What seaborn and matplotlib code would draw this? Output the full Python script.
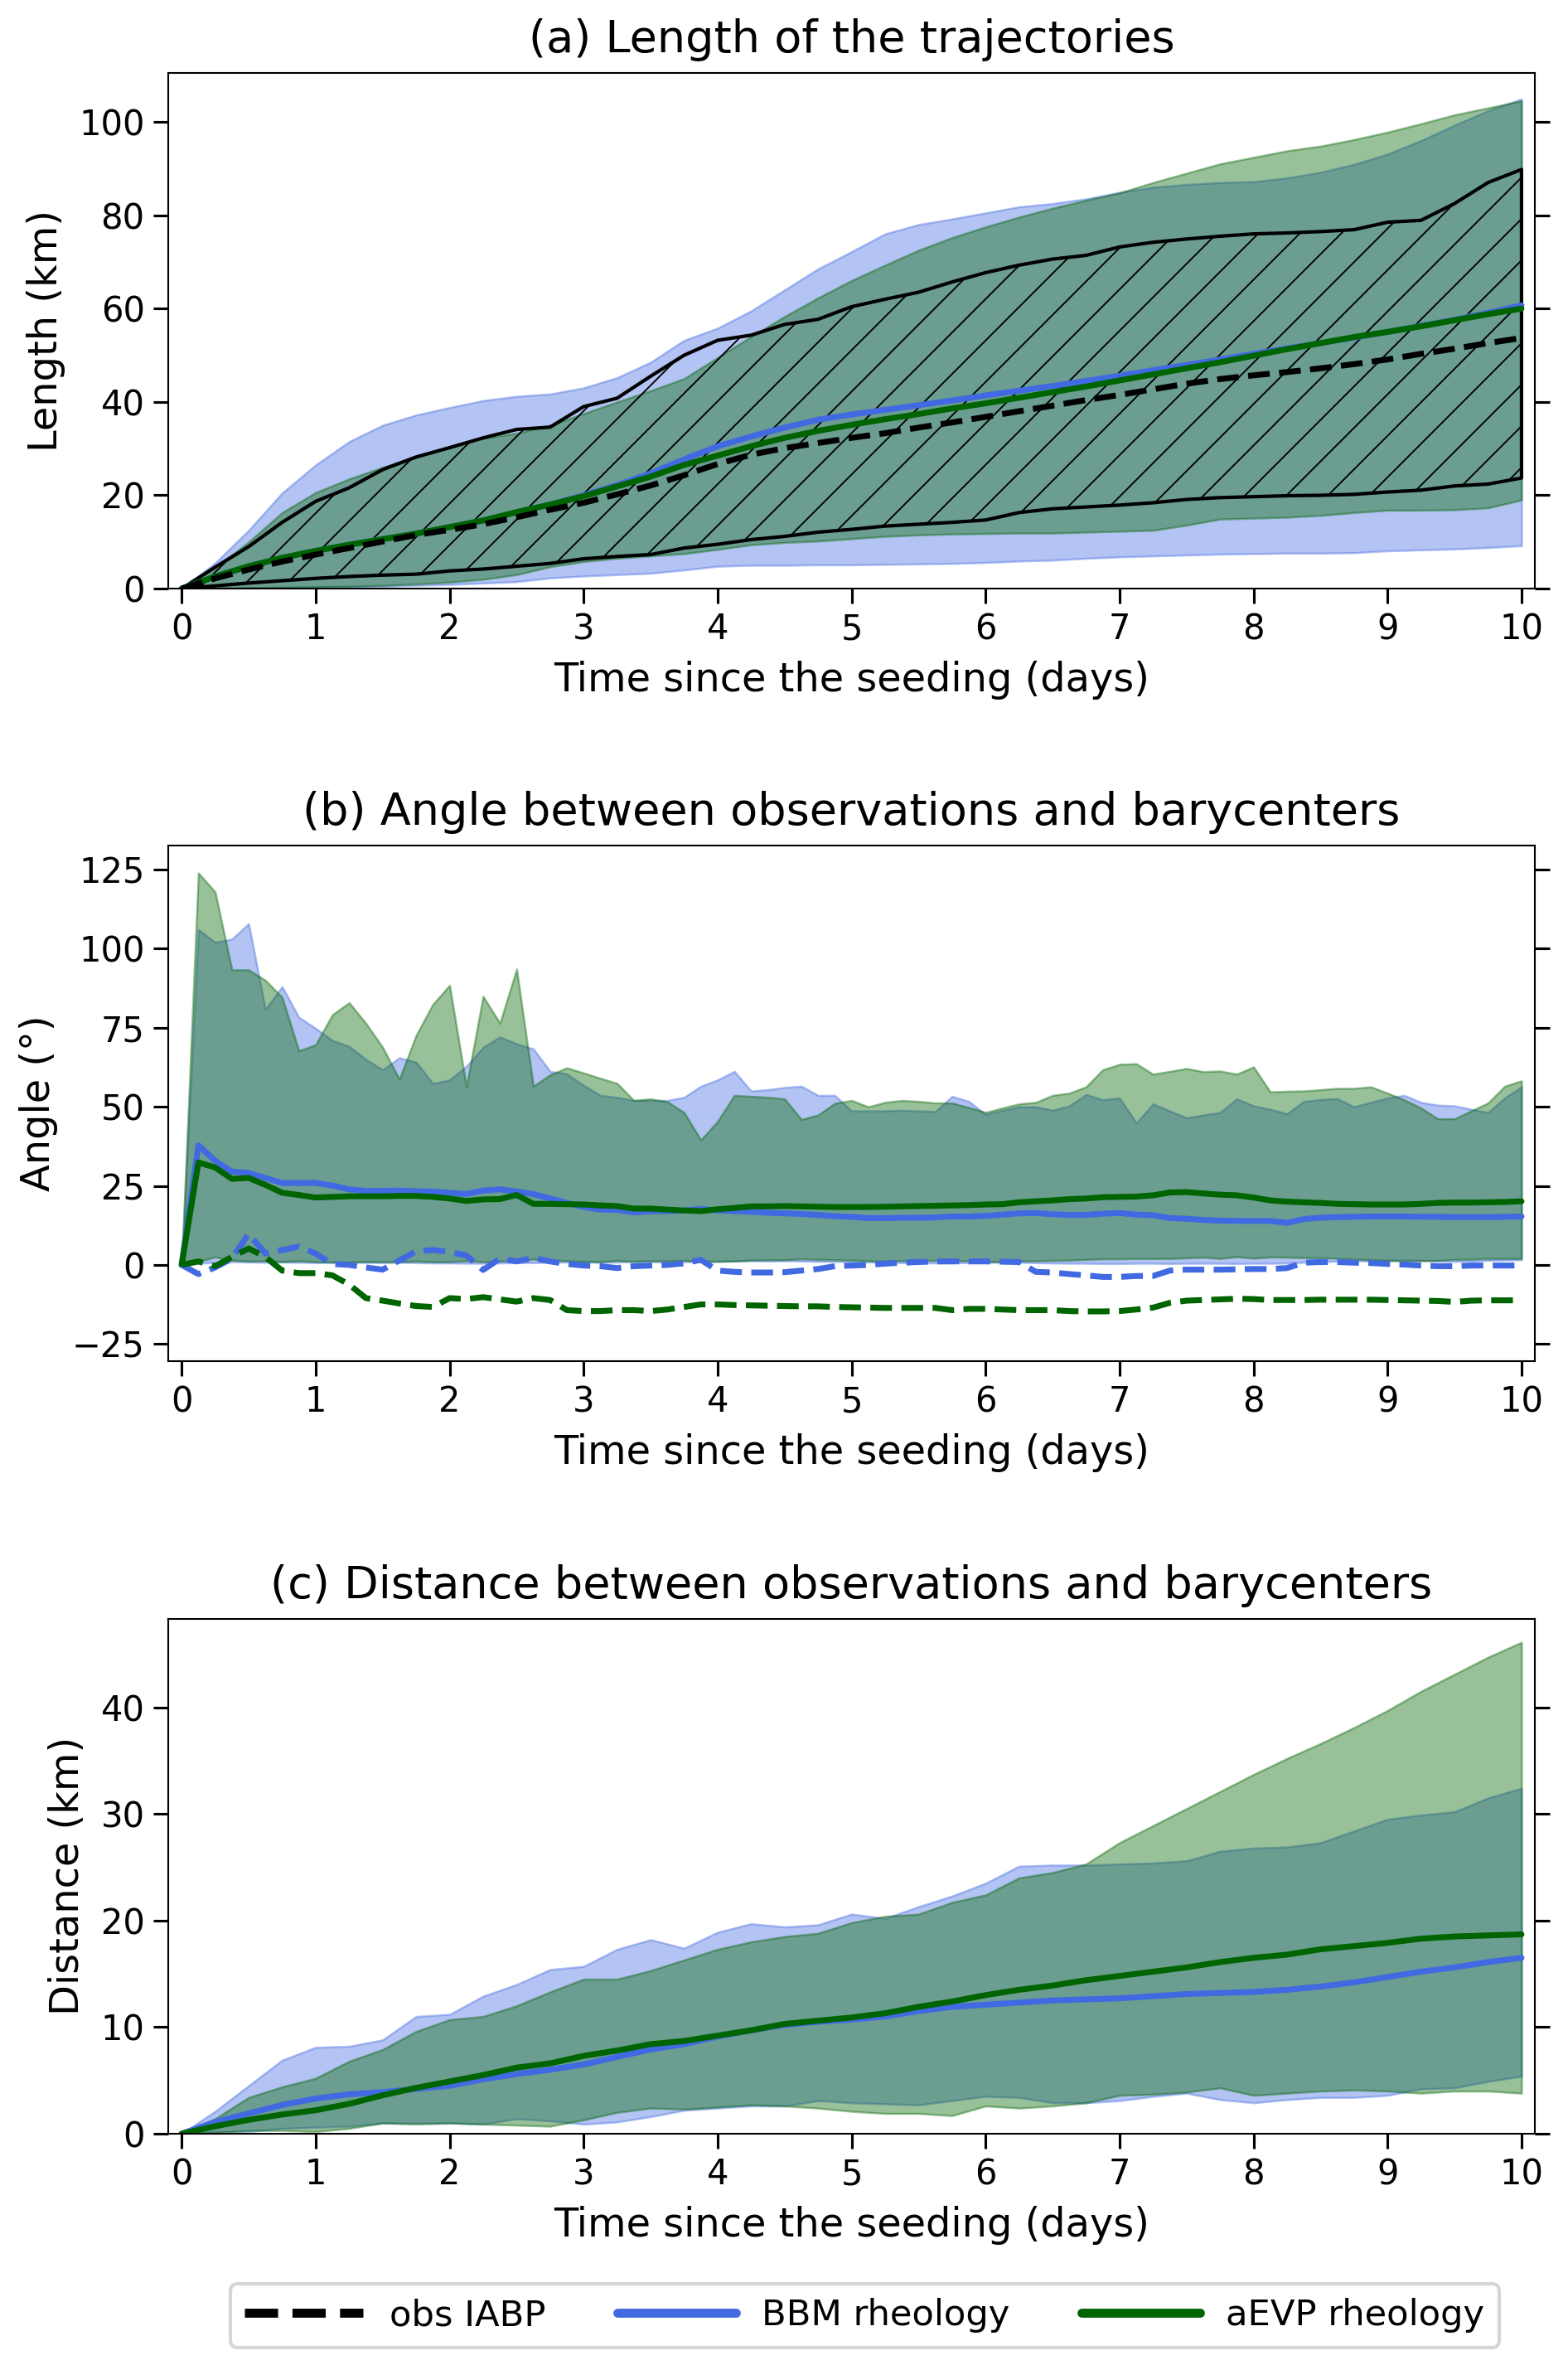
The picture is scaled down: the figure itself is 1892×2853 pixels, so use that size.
import numpy as np
import matplotlib
matplotlib.use("Agg")
import matplotlib.pyplot as plt
from matplotlib.lines import Line2D
import seaborn as sns

# ---------------- data ----------------
# panel (a): 0.25-day grid
t_a = np.linspace(0, 10, 41)
len_bbm_hi = [0, 5.5, 12.5, 20.5, 26.5, 31.5, 35.0, 37.2, 38.8, 40.3, 41.2, 41.7, 43.0, 45.2, 48.5, 53.2, 55.8,
              59.5, 64.0, 68.5, 72.2, 76.0, 78.0, 79.2, 80.5, 81.8, 82.5, 83.5, 84.9, 86.0, 86.6, 87.0, 87.2,
              88.0, 89.2, 90.9, 93.1, 96.0, 99.3, 102.4, 104.9]
len_bbm_lo = [0, 0.05, 0.1, 0.2, 0.3, 0.4, 0.5, 0.7, 0.9, 1.2, 1.5, 2.3, 2.7, 3.0, 3.3, 4.0, 4.8, 5.0, 5.0, 5.1,
              5.1, 5.2, 5.3, 5.4, 5.6, 5.9, 6.1, 6.5, 6.8, 7.0, 7.2, 7.4, 7.5, 7.6, 7.6, 7.7, 8.1, 8.3, 8.5, 8.8, 9.2]
len_evp_hi = [0, 4.5, 10.0, 16.3, 20.6, 23.5, 26.0, 28.3, 30.5, 32.2, 33.3, 35.0, 37.5, 40.0, 42.4, 45.0, 49.5,
              54.0, 58.3, 62.3, 66.0, 69.3, 72.5, 75.2, 77.5, 79.6, 81.5, 83.2, 84.8, 87.0, 89.0, 91.0, 92.4,
              93.8, 94.8, 96.2, 97.8, 99.6, 101.5, 103.0, 104.5]
len_evp_lo = [0, 0.1, 0.2, 0.3, 0.4, 0.5, 0.7, 1.0, 1.4, 2.0, 3.0, 4.7, 5.8, 6.5, 7.0, 7.5, 8.4, 9.4, 9.9, 10.2,
              10.7, 11.2, 11.5, 11.7, 11.8, 11.9, 11.9, 12.1, 12.3, 12.5, 13.6, 14.9, 15.1, 15.3, 15.7, 16.3,
              16.8, 16.8, 16.9, 17.3, 19.0]
len_obs_hi = [0, 4.6, 9.0, 14.2, 18.7, 21.6, 25.5, 28.2, 30.2, 32.3, 34.1, 34.6, 39.0, 40.8, 45.5, 50.0, 53.2,
              54.3, 56.6, 57.7, 60.4, 62.0, 63.5, 65.7, 67.7, 69.3, 70.6, 71.4, 73.2, 74.2, 74.9, 75.5, 76.0,
              76.2, 76.5, 76.9, 78.5, 78.9, 82.5, 87.0, 89.8]
len_obs_lo = [0, 0.6, 1.2, 1.7, 2.2, 2.6, 2.9, 3.1, 3.8, 4.2, 4.8, 5.4, 6.4, 6.9, 7.3, 8.7, 9.5, 10.5, 11.2, 12.1,
              12.7, 13.4, 13.8, 14.2, 14.7, 16.3, 17.1, 17.5, 17.9, 18.4, 19.1, 19.5, 19.7, 19.9, 20.0, 20.2,
              20.7, 21.1, 22.0, 22.4, 23.7]
len_bbm_med = [0, 2.6, 4.8, 6.6, 8.1, 9.4, 10.6, 11.8, 13.2, 14.6, 16.4, 18.0, 20.0, 22.2, 24.7, 27.7, 30.5, 32.6,
               34.5, 36.2, 37.3, 38.3, 39.3, 40.3, 41.4, 42.4, 43.4, 44.5, 45.6, 46.8, 47.9, 49.1, 50.3, 51.5,
               52.6, 53.8, 55.0, 56.3, 57.6, 59.1, 60.7]
len_evp_med = [0, 2.6, 4.8, 6.6, 8.1, 9.4, 10.6, 11.8, 13.2, 14.6, 16.4, 18.0, 19.8, 21.9, 24.0, 26.5, 28.5, 30.5,
               32.3, 33.8, 35.1, 36.3, 37.4, 38.6, 39.7, 40.9, 42.1, 43.3, 44.6, 45.9, 47.2, 48.5, 49.9, 51.3,
               52.6, 53.9, 55.0, 56.2, 57.5, 58.8, 60.0]
len_obs_med = [0, 2.2, 4.1, 5.8, 7.3, 8.7, 10.1, 11.5, 12.6, 13.8, 15.3, 16.9, 18.4, 20.2, 22.1, 24.3, 26.7, 28.7,
               30.1, 31.2, 32.3, 33.3, 34.5, 35.6, 36.8, 38.0, 39.2, 40.4, 41.5, 42.7, 43.9, 44.9, 45.7, 46.4,
               47.2, 48.1, 49.1, 50.3, 51.4, 52.6, 53.7]

# panel (b): 3-hourly grid
t_b = np.linspace(0, 10, 81)
ang_evp_hi = [0, 123.9, 117.9, 93.3, 93.3, 90.0, 84.6, 67.7, 69.6, 79.1, 82.9,
              76.4, 68.8, 58.7, 72.6, 82.4, 88.4, 56.3, 84.9, 76.4, 93.5,
              56.5, 60.1, 62.3, 60.7, 59.0, 57.4, 52.0, 52.5, 51.6, 48.2,
              39.5, 45.4, 53.6, 53.3, 53.0, 52.5, 46.0, 47.4, 51.1, 52.0,
              50.0, 51.4, 52.0, 51.7, 51.2, 51.2, 49.8, 48.2, 49.6, 50.9,
              51.4, 53.6, 54.3, 56.3, 61.7, 63.4, 63.6, 60.3, 61.2, 62.1,
              61.1, 61.3, 60.3, 62.6, 54.7, 54.9, 55.0, 55.4, 55.8, 55.8,
              56.3, 54.3, 52.2, 49.6, 46.2, 46.2, 48.7, 51.2, 56.5, 58.2]
ang_bbm_hi = [0, 106.0, 102.0, 103.0, 107.9, 80.8, 88.0, 78.3, 74.8, 71.0, 69.1,
              65.0, 61.7, 65.5, 64.1, 57.4, 58.5, 62.8, 68.8, 72.1, 69.9,
              68.3, 61.2, 60.4, 56.8, 53.6, 53.0, 52.0, 52.0, 52.0, 53.0,
              56.5, 58.5, 61.2, 55.0, 55.4, 56.1, 56.5, 53.6, 53.6, 48.7,
              48.7, 48.7, 48.9, 48.7, 48.5, 53.3, 51.7, 47.6, 48.9, 50.0,
              50.0, 48.9, 50.3, 53.9, 52.2, 52.8, 44.9, 50.9, 48.7, 46.5,
              47.4, 48.2, 52.5, 50.3, 49.2, 47.8, 51.7, 52.3, 52.6, 50.0,
              51.4, 52.8, 53.6, 51.4, 50.5, 50.3, 49.2, 48.2, 52.8, 56.3]
ang_evp_lo = [0, 1.0, 2.5, 1.5, 1.2, 1.3, 1.0, 1.3, 1.0, 0.9, 0.9,
              1.0, 1.0, 1.0, 1.2, 1.0, 1.0, 1.3, 1.0, 1.2, 1.4,
              1.8, 1.5, 1.3, 1.1, 1.0, 1.4, 1.1, 1.3, 1.3, 1.4,
              1.2, 1.1, 1.2, 1.5, 1.6, 1.6, 1.9, 1.7, 1.6, 1.5,
              1.3, 1.2, 1.3, 1.4, 1.4, 1.3, 1.3, 1.1, 1.0, 1.2,
              1.3, 1.4, 1.5, 1.7, 1.9, 1.9, 2.0, 2.0, 2.0, 2.2,
              2.4, 2.0, 2.6, 2.1, 2.5, 2.4, 2.3, 2.2, 2.1, 1.8,
              1.6, 1.4, 1.2, 1.3, 1.4, 1.7, 1.8, 2.0, 2.0, 2.0]
ang_bbm_lo = [0, 0.5, 0.8, 1.0, 0.9, 0.8, 0.9, 0.8, 0.7, 0.7, 0.8,
              0.8, 0.7, 0.8, 0.7, 0.6, 0.6, 0.5, 0.5, 0.6, 0.7,
              0.7, 0.8, 0.9, 0.9, 0.8, 0.9, 1.0, 1.0, 0.9, 1.0,
              1.0, 1.1, 1.2, 1.3, 1.2, 1.3, 1.2, 1.1, 1.1, 1.0,
              0.9, 0.8, 0.7, 0.7, 0.6, 0.7, 0.7, 0.8, 0.8, 0.8,
              0.7, 0.6, 0.5, 0.5, 0.4, 0.4, 0.5, 0.5, 0.4, 0.5,
              0.5, 0.5, 0.4, 0.5, 0.5, 0.6, 0.8, 1.0, 1.2, 1.3,
              1.2, 1.4, 1.5, 1.4, 1.2, 1.1, 1.2, 1.4, 1.5, 1.6]
ang_bbm_mean = [0, 37.8, 32.9, 29.5, 29.1, 27.5, 25.9, 25.9, 25.9, 25.1, 23.9,
                23.4, 23.4, 23.5, 23.3, 23.2, 22.8, 22.4, 23.5, 23.9, 23.2,
                22.4, 21.0, 19.6, 18.3, 17.5, 17.4, 16.6, 17.0, 17.0, 17.2,
                17.7, 17.2, 17.0, 16.8, 16.5, 16.3, 16.1, 15.8, 15.4, 15.2,
                14.8, 14.8, 14.9, 14.9, 15.0, 15.3, 15.3, 15.5, 15.9, 16.3,
                16.4, 16.0, 15.8, 15.8, 16.2, 16.4, 15.9, 15.7, 14.8, 14.6,
                14.2, 14.0, 13.9, 13.9, 13.9, 13.3, 14.5, 14.9, 15.1, 15.2,
                15.3, 15.3, 15.3, 15.2, 15.2, 15.1, 15.1, 15.1, 15.2, 15.3]
ang_evp_mean = [0, 32.4, 30.8, 27.2, 27.5, 25.3, 22.8, 22.1, 21.3, 21.5, 21.7,
                21.7, 21.7, 21.8, 21.8, 21.5, 21.0, 20.2, 20.7, 20.8, 22.1,
                19.3, 19.3, 19.2, 19.1, 18.8, 18.6, 17.8, 17.8, 17.5, 17.2,
                17.0, 17.6, 18.0, 18.5, 18.5, 18.6, 18.5, 18.4, 18.3, 18.3,
                18.3, 18.4, 18.5, 18.6, 18.7, 18.8, 18.9, 19.1, 19.2, 19.8,
                20.1, 20.4, 20.8, 21.0, 21.4, 21.5, 21.6, 22.0, 22.9, 23.0,
                22.6, 22.2, 22.0, 21.3, 20.4, 20.0, 19.8, 19.6, 19.3, 19.2,
                19.1, 19.1, 19.1, 19.3, 19.6, 19.7, 19.7, 19.8, 19.9, 20.1]
ang_bbm_bias = [0, -2.9, -0.8, 2.0, 9.8, 3.6, 4.7, 5.8, 3.6, 0.3, 0.0,
                -0.8, -1.5, 1.4, 4.3, 4.7, 4.1, 3.0, -1.6, 2.0, 1.1,
                2.2, 1.1, 0.3, -0.2, -0.4, -1.0, -0.4, -0.2, 0.0, 0.5,
                1.6, -1.8, -2.2, -2.4, -2.4, -2.3, -1.8, -1.3, -0.4, -0.2,
                0.0, 0.4, 0.7, 0.9, 1.1, 1.1, 1.1, 1.1, 1.0, 0.9,
                -2.2, -2.4, -2.9, -3.3, -3.8, -3.8, -3.5, -3.5, -1.8, -1.5,
                -1.5, -1.5, -1.4, -1.3, -1.3, -1.0, 0.7, 0.9, 0.9, 0.7,
                0.6, 0.3, 0.1, -0.2, -0.4, -0.4, -0.2, -0.2, -0.2, -0.2]
ang_evp_bias = [0, 1.1, -0.4, 2.5, 5.2, 2.5, -1.8, -2.6, -2.6, -3.3, -6.2,
                -10.5, -11.3, -12.2, -13.0, -13.3, -10.5, -10.8, -10.2, -10.9, -11.6,
                -10.5, -11.1, -14.3, -14.6, -14.6, -14.3, -14.3, -14.6, -14.1, -13.3,
                -12.5, -12.5, -12.7, -12.8, -12.9, -13.0, -13.1, -13.1, -13.3, -13.4,
                -13.5, -13.6, -13.6, -13.6, -13.6, -14.3, -13.9, -13.9, -14.1, -14.3,
                -14.3, -14.3, -14.6, -14.7, -14.7, -14.6, -14.1, -13.5, -12.0, -11.3,
                -11.1, -10.9, -10.7, -10.8, -11.1, -11.1, -11.1, -11.0, -11.0, -11.0,
                -11.0, -11.1, -11.2, -11.3, -11.4, -11.7, -11.3, -11.2, -11.2, -11.2]

# panel (c): 0.25-day grid
t_c = np.linspace(0, 10, 41)
dist_bbm_hi = [0, 2.1, 4.5, 6.9, 8.1, 8.2, 8.8, 11.0, 11.2, 12.9, 14.0, 15.4, 15.7, 17.3, 18.2, 17.4, 18.9,
               19.7, 19.4, 19.6, 20.6, 20.2, 21.3, 22.3, 23.5, 25.1, 25.2, 25.2, 25.3, 25.4, 25.6, 26.5, 26.8,
               26.9, 27.3, 28.4, 29.5, 29.9, 30.2, 31.5, 32.4]
dist_bbm_lo = [0, 0.2, 0.2, 0.5, 0.6, 0.7, 1.0, 1.0, 1.0, 0.9, 1.4, 1.2, 0.9, 1.1, 1.6, 2.2, 2.4, 2.6, 2.6, 3.1,
               2.9, 2.8, 2.7, 3.1, 3.5, 3.4, 2.9, 2.9, 3.1, 3.5, 3.8, 3.2, 2.9, 3.2, 3.4, 3.4, 3.6, 4.2, 4.3,
               4.9, 5.4]
dist_evp_hi = [0, 1.4, 3.4, 4.4, 5.2, 6.8, 7.9, 9.6, 10.7, 11.0, 12.0, 13.3, 14.5, 14.5, 15.3, 16.3, 17.3,
               18.0, 18.5, 18.8, 19.8, 20.4, 20.6, 21.7, 22.4, 24.0, 24.5, 25.3, 27.3, 28.9, 30.5, 32.1, 33.7,
               35.2, 36.6, 38.1, 39.7, 41.5, 43.1, 44.7, 46.1]
dist_evp_lo = [0, 0.1, 0.3, 0.3, 0.2, 0.5, 1.0, 0.9, 1.0, 0.9, 0.8, 0.7, 1.3, 2.0, 2.4, 2.3, 2.5, 2.7, 2.6, 2.4,
               2.1, 1.9, 1.9, 1.7, 2.6, 2.4, 2.6, 2.9, 3.6, 3.7, 3.9, 4.3, 3.6, 3.8, 4.0, 4.1, 4.0, 3.8, 4.0,
               4.0, 3.8]
dist_bbm_mean = [0, 1.1, 1.9, 2.7, 3.3, 3.7, 3.9, 4.2, 4.5, 5.1, 5.6, 6.0, 6.5, 7.2, 7.9, 8.4, 9.1, 9.7, 10.2,
                 10.5, 10.7, 11.0, 11.5, 11.9, 12.1, 12.3, 12.5, 12.6, 12.7, 12.9, 13.1, 13.2, 13.3, 13.5, 13.8,
                 14.2, 14.7, 15.2, 15.6, 16.1, 16.5]
dist_evp_mean = [0, 0.7, 1.3, 1.8, 2.2, 2.8, 3.6, 4.3, 4.9, 5.5, 6.2, 6.6, 7.3, 7.8, 8.4, 8.7, 9.2, 9.7, 10.3,
                 10.6, 10.9, 11.3, 11.9, 12.4, 13.0, 13.5, 13.9, 14.4, 14.8, 15.2, 15.6, 16.1, 16.5, 16.8, 17.3,
                 17.6, 17.9, 18.3, 18.5, 18.6, 18.7]

titles = ["(a) Length of the trajectories",
          "(b) Angle between observations and barycenters",
          "(c) Distance between observations and barycenters"]
ylabels = ["Length (km)", "Angle (°)", "Distance (km)"]
xlabel = "Time since the seeding (days)"
legend_labels = ["obs IABP", "BBM rheology", "aEVP rheology"]
xticks = list(range(0, 11))
yticks_a = [0, 20, 40, 60, 80, 100]
yticks_b = [-25, 0, 25, 50, 75, 100, 125]
yticks_c = [0, 10, 20, 30, 40]

# ---------------- style ----------------
sns.set_theme(style="ticks")
plt.rcParams.update({
    "font.family": ["DejaVu Sans"],
    "axes.linewidth": 0.5,
    "hatch.linewidth": 0.45,
    "xtick.labelsize": 10,
    "ytick.labelsize": 10,
    "axes.labelsize": 11.5,
    "axes.titlesize": 13,
    "text.color": "black",
    "axes.labelcolor": "black",
    "xtick.color": "black",
    "ytick.color": "black",
    "axes.edgecolor": "black",
})

BLUE = "royalblue"
GREEN = "darkgreen"
LW = 1.7

W, H = 1892, 2853
fig = plt.figure(figsize=(W / 300, H / 300), dpi=300)

axw = 0.8716
rects = [(0.1073, 0.7511, axw, 0.2181),
         (0.1073, 0.4245, axw, 0.2180),
         (0.1073, 0.0978, axw, 0.2177)]
axes = [fig.add_axes(r) for r in rects]


def style_axis(ax, title, ylabel, yticks, ylim):
    ax.set_xlim(-0.1, 10.1)
    ax.set_ylim(*ylim)
    ax.set_xticks(xticks)
    ax.set_yticks(yticks)
    ax.set_title(title, pad=6)
    ax.set_xlabel(xlabel)
    ax.set_ylabel(ylabel)
    ax.tick_params(axis="both", direction="out", length=4.3, width=0.75, pad=2.5)
    ax.tick_params(axis="y", right=True, labelright=False)
    ax.tick_params(axis="x", top=False)


# ----- panel (a)
ax = axes[0]
ax.fill_between(t_a, len_bbm_lo, len_bbm_hi, color=BLUE, alpha=0.4, lw=0.6)
ax.fill_between(t_a, len_evp_lo, len_evp_hi, color=GREEN, alpha=0.4, lw=0.6)
ax.fill_between(t_a, len_obs_lo, len_obs_hi, facecolor="none", edgecolor="black",
                hatch="//", lw=1.0)
sns.lineplot(x=t_a, y=len_bbm_med, ax=ax, color=BLUE, lw=LW)
sns.lineplot(x=t_a, y=len_evp_med, ax=ax, color=GREEN, lw=LW)
sns.lineplot(x=t_a, y=len_obs_med, ax=ax, color="black", lw=LW, linestyle="--")
style_axis(ax, titles[0], ylabels[0], yticks_a, (0, 110.5))

# ----- panel (b)
ax = axes[1]
ax.fill_between(t_b, ang_bbm_lo, ang_bbm_hi, color=BLUE, alpha=0.4, lw=0.6)
ax.fill_between(t_b, ang_evp_lo, ang_evp_hi, color=GREEN, alpha=0.4, lw=0.6)
sns.lineplot(x=t_b, y=ang_bbm_mean, ax=ax, color=BLUE, lw=LW)
sns.lineplot(x=t_b, y=ang_evp_mean, ax=ax, color=GREEN, lw=LW)
sns.lineplot(x=t_b, y=ang_bbm_bias, ax=ax, color=BLUE, lw=LW, linestyle="--")
sns.lineplot(x=t_b, y=ang_evp_bias, ax=ax, color=GREEN, lw=LW, linestyle="--")
style_axis(ax, titles[1], ylabels[1], yticks_b, (-30.4, 132.6))

# ----- panel (c)
ax = axes[2]
ax.fill_between(t_c, dist_bbm_lo, dist_bbm_hi, color=BLUE, alpha=0.4, lw=0.6)
ax.fill_between(t_c, dist_evp_lo, dist_evp_hi, color=GREEN, alpha=0.4, lw=0.6)
sns.lineplot(x=t_c, y=dist_bbm_mean, ax=ax, color=BLUE, lw=LW)
sns.lineplot(x=t_c, y=dist_evp_mean, ax=ax, color=GREEN, lw=LW)
style_axis(ax, titles[2], ylabels[2], yticks_c, (0, 48.3))

# ----- legend
handles = [Line2D([], [], color="black", lw=2.6, linestyle="--"),
           Line2D([], [], color=BLUE, lw=2.6),
           Line2D([], [], color=GREEN, lw=2.6)]
fig.legend(handles, legend_labels, loc="center", bbox_to_anchor=(0.5515, 0.0209),
           ncol=3, fontsize=10.4, handlelength=3.3, handletextpad=0.72,
           columnspacing=2.0, frameon=True, fancybox=True, edgecolor="0.8")

fig.savefig("out.png", dpi=300)
